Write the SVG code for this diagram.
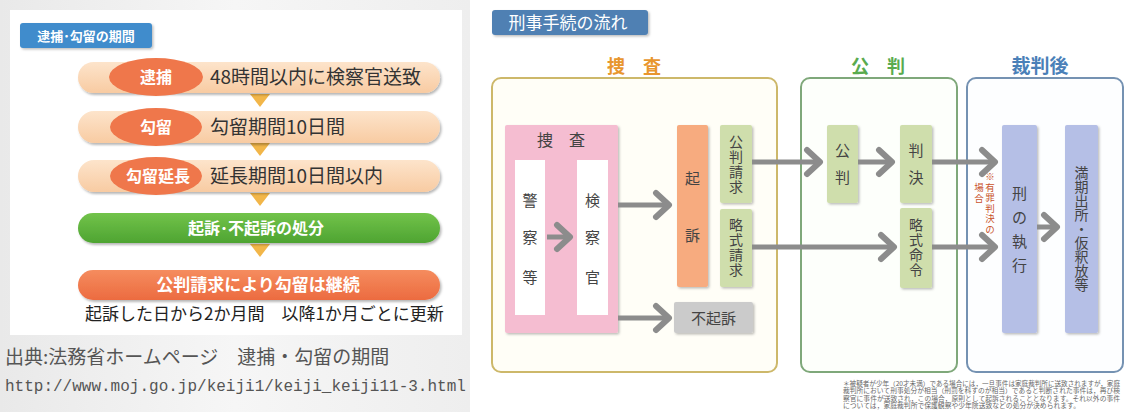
<svg xmlns="http://www.w3.org/2000/svg" width="1125" height="412" viewBox="0 0 1125 412">
<defs>
<style>
.jp{font-family:"Noto Sans CJK JP","Noto Sans",sans-serif;}
.wb{fill:#fff;font-weight:bold;}
.lbl{fill:#333;font-size:19px;}
.vt{fill:#444;font-size:15px;text-anchor:middle;}
.vw{fill:#444;font-size:14px;letter-spacing:1px;text-anchor:middle;writing-mode:vertical-rl;}
.conn{stroke:#8c8c8c;stroke-width:5;fill:none;}
.fn{fill:#666;font-size:6.4px;}
</style>
<linearGradient id="gPeach" x1="0" y1="0" x2="0" y2="1"><stop offset="0" stop-color="#fde4cb"/><stop offset="1" stop-color="#f8cba2"/></linearGradient>
<linearGradient id="gGreen" x1="0" y1="0" x2="0" y2="1"><stop offset="0" stop-color="#72c34a"/><stop offset="1" stop-color="#4ea432"/></linearGradient>
<linearGradient id="gOrange" x1="0" y1="0" x2="0" y2="1"><stop offset="0" stop-color="#f58c5e"/><stop offset="1" stop-color="#ec6b40"/></linearGradient>
<linearGradient id="gBg" x1="0" y1="0" x2="1" y2="0"><stop offset="0" stop-color="#e9e9e9"/><stop offset="0.5" stop-color="#f6f6f6"/><stop offset="1" stop-color="#eeeeee"/></linearGradient>
<filter id="sh" x="-10%" y="-20%" width="120%" height="150%"><feDropShadow dx="1.5" dy="2" stdDeviation="1.3" flood-color="#000" flood-opacity="0.28"/></filter>
<filter id="sh2" x="-20%" y="-10%" width="150%" height="130%"><feDropShadow dx="1.5" dy="1.5" stdDeviation="1" flood-color="#000" flood-opacity="0.25"/></filter>
<marker id="chev" markerUnits="userSpaceOnUse" viewBox="0 0 22 32" refX="18" refY="16" markerWidth="22" markerHeight="32" orient="auto">
<path d="M4,4 L17,16 L4,28" fill="none" stroke="#8c8c8c" stroke-width="6" stroke-linecap="round" stroke-linejoin="round"/>
</marker>
</defs>

<!-- backgrounds -->
<rect x="0" y="0" width="470" height="412" fill="url(#gBg)"/>
<rect x="470" y="0" width="655" height="412" fill="#ffffff"/>
<rect x="10" y="10" width="452" height="325" fill="#ffffff"/>

<!-- LEFT PANEL -->
<g id="title-left">
<rect x="20" y="23" width="132" height="25" rx="3" fill="#3f8ccc" filter="url(#sh2)"/>
<text x="86" y="40.5" class="jp wb" font-size="13" text-anchor="middle">逮捕･勾留の期間</text>
</g>

<g id="tri" fill="#f2b649">
<polygon points="250,94 270,94 260,107"/>
<polygon points="250,143 270,143 260,156"/>
<polygon points="250,193 270,193 260,206"/>
<polygon points="250,244 270,244 260,257"/>
</g>

<g id="row-taiho">
<rect x="78" y="62" width="362" height="31" rx="15.5" fill="url(#gPeach)" filter="url(#sh)"/>
<ellipse cx="156" cy="77" rx="47" ry="19" fill="#ef774b"/>
<text x="156" y="83" class="jp wb" font-size="16" text-anchor="middle">逮捕</text>
<text x="210" y="84" class="jp lbl">48時間以内に検察官送致</text>
</g>

<g id="row-koryu">
<rect x="78" y="111" width="362" height="32" rx="16" fill="url(#gPeach)" filter="url(#sh)"/>
<ellipse cx="156" cy="127" rx="46" ry="19" fill="#ef774b"/>
<text x="156" y="133" class="jp wb" font-size="16" text-anchor="middle">勾留</text>
<text x="210" y="134" class="jp lbl">勾留期間10日間</text>
</g>

<g id="row-encho">
<rect x="78" y="160" width="362" height="32" rx="16" fill="url(#gPeach)" filter="url(#sh)"/>
<ellipse cx="156" cy="176" rx="46" ry="19" fill="#ef774b"/>
<text x="158" y="182" class="jp wb" font-size="16" text-anchor="middle">勾留延長</text>
<text x="210" y="183" class="jp lbl">延長期間10日間以内</text>
</g>

<g id="row-kiso">
<rect x="78" y="213" width="362" height="30" rx="15" fill="url(#gGreen)" filter="url(#sh)"/>
<text x="256" y="234" class="jp wb" font-size="16" text-anchor="middle">起訴･不起訴の処分</text>
</g>

<g id="row-kohan">
<rect x="78" y="270" width="362" height="30" rx="15" fill="url(#gOrange)" filter="url(#sh)"/>
<text x="258" y="291" class="jp wb" font-size="17" text-anchor="middle">公判請求により勾留は継続</text>
</g>

<text x="85" y="320" class="jp" font-size="17" fill="#222">起訴した日から2か月間　以降1か月ごとに更新</text>

<g id="citation">
<text x="5" y="364" class="jp" font-size="19" fill="#555">出典:法務省ホームページ　逮捕・勾留の期間</text>
<text x="5" y="391" font-family="Liberation Mono, monospace" font-size="16" fill="#555">http://www.moj.go.jp/keiji1/keiji_keiji11-3.html</text>
</g>

<!-- RIGHT PANEL -->
<g id="title-right">
<rect x="492" y="10" width="156" height="25" rx="3" fill="#4f80b3" filter="url(#sh2)"/>
<text x="568" y="29" class="jp" font-size="17" fill="#fff" text-anchor="middle">刑事手続の流れ</text>
</g>

<g id="sec-sosa">
<text x="634" y="73" class="jp" font-size="18" font-weight="bold" fill="#e8962e" text-anchor="middle">捜　査</text>
<rect x="492" y="78" width="285" height="294" rx="9" fill="#fffef7" stroke="#cdb86a" stroke-width="2"/>
</g>
<g id="sec-kohan">
<text x="878" y="73" class="jp" font-size="18" font-weight="bold" fill="#5aab4e" text-anchor="middle">公　判</text>
<rect x="801" y="78" width="156" height="294" rx="9" fill="#fdfffb" stroke="#7fa87a" stroke-width="2"/>
</g>
<g id="sec-saiban">
<text x="1040" y="73" class="jp" font-size="19" font-weight="bold" fill="#4a80b8" text-anchor="middle">裁判後</text>
<rect x="967" y="78" width="156" height="294" rx="9" fill="#fdfeff" stroke="#7592b2" stroke-width="2"/>
</g>

<g id="node-sosa">
<rect x="505" y="125" width="113" height="208" rx="2" fill="#f5bdd1" filter="url(#sh2)"/>
<text x="561" y="146" class="jp" font-size="16" fill="#444" text-anchor="middle">捜　査</text>
</g>
<g id="node-keisatsu">
<rect x="515" y="160" width="30" height="155" fill="#ffffff"/>
<text class="jp vt"><tspan x="530" y="205.5">警</tspan><tspan x="530" y="242.5">察</tspan><tspan x="530" y="282.5">等</tspan></text>
</g>
<g id="node-kensatsu">
<rect x="577" y="160" width="31" height="155" fill="#ffffff"/>
<text class="jp vt"><tspan x="592.5" y="205.5">検</tspan><tspan x="592.5" y="242.5">察</tspan><tspan x="592.5" y="282.5">官</tspan></text>
</g>
<g id="node-kiso">
<rect x="677" y="125" width="31" height="162" rx="2" fill="#f7ab7f" filter="url(#sh2)"/>
<text class="jp vt"><tspan x="692.5" y="183.5">起</tspan><tspan x="692.5" y="240.5">訴</tspan></text>
</g>
<g id="node-kohanseikyu">
<rect x="720" y="125" width="32" height="78" rx="2" fill="#cfdeac" filter="url(#sh2)"/>
<text x="736" y="165" class="jp vw">公判請求</text>
</g>
<g id="node-ryakushikiseikyu">
<rect x="720" y="209" width="32" height="78" rx="2" fill="#cfdeac" filter="url(#sh2)"/>
<text x="736" y="248" class="jp vw">略式請求</text>
</g>
<g id="node-fukiso">
<rect x="674" y="302" width="79" height="31" rx="2" fill="#cbcbcb" filter="url(#sh2)"/>
<text x="713.5" y="323.5" class="jp vt">不起訴</text>
</g>

<g id="node-kohan">
<rect x="827" y="125" width="31" height="78" rx="2" fill="#cfdeac" filter="url(#sh2)"/>
<text class="jp vt"><tspan x="842.5" y="155.5">公</tspan><tspan x="842.5" y="182.5">判</tspan></text>
</g>
<g id="node-hanketsu">
<rect x="900" y="125" width="32" height="78" rx="2" fill="#cfdeac" filter="url(#sh2)"/>
<text class="jp vt"><tspan x="916" y="155.5">判</tspan><tspan x="916" y="182.5">決</tspan></text>
</g>
<g id="node-ryakushikimeirei">
<rect x="900" y="208" width="32" height="80" rx="2" fill="#cfdeac" filter="url(#sh2)"/>
<text x="916" y="248" class="jp vw">略式命令</text>
</g>

<g id="node-shikkou">
<rect x="1002" y="125" width="35" height="208" rx="2" fill="#b5bfe6" filter="url(#sh2)"/>
<text class="jp vt" font-size="17"><tspan x="1019.5" y="199">刑</tspan><tspan x="1019.5" y="223">の</tspan><tspan x="1019.5" y="247">執</tspan><tspan x="1019.5" y="271">行</tspan></text>
</g>
<g id="node-manki">
<rect x="1065" y="125" width="33" height="208" rx="2" fill="#b5bfe6" filter="url(#sh2)"/>
<text x="1081.5" y="229" class="jp vw" style="font-size:14px;letter-spacing:0px">満期出所・仮釈放等</text>
</g>

<g id="note-yuzai" class="jp" fill="#c9532b" style="writing-mode:vertical-rl;font-size:9.5px;letter-spacing:1px">
<text x="990" y="172">※有罪判決の</text>
<text x="979" y="183">場合</text>
</g>

<g id="connectors">
<line class="conn" x1="547" y1="237" x2="571" y2="237" marker-end="url(#chev)"/>
<line class="conn" x1="618" y1="205" x2="670" y2="205" marker-end="url(#chev)"/>
<line class="conn" x1="618" y1="318" x2="670" y2="318" marker-end="url(#chev)"/>
<line class="conn" x1="752" y1="162" x2="821" y2="162" marker-end="url(#chev)"/>
<line class="conn" x1="752" y1="247" x2="895" y2="247" marker-end="url(#chev)"/>
<line class="conn" x1="858" y1="162" x2="893" y2="162" marker-end="url(#chev)"/>
<line class="conn" x1="932" y1="162" x2="996" y2="162" marker-end="url(#chev)"/>
<line class="conn" x1="932" y1="247" x2="996" y2="247" marker-end="url(#chev)"/>
<line class="conn" x1="1037" y1="227" x2="1058" y2="227" marker-end="url(#chev)"/>
</g>

<g id="footnote" class="jp fn">
<text x="843" y="385.5" textLength="277" lengthAdjust="spacingAndGlyphs">＊被疑者が少年（20才未満）である場合には，一旦事件は家庭裁判所に送致されますが，家庭</text>
<text x="843" y="393" textLength="277" lengthAdjust="spacingAndGlyphs">裁判所において刑事処分が相当（刑罰を科すのが相当）であると判断された事件は，再び検</text>
<text x="843" y="400.5" textLength="277" lengthAdjust="spacingAndGlyphs">察官に事件が送致され，この場合，原則として起訴されることとなります。それ以外の事件</text>
<text x="843" y="408" textLength="237" lengthAdjust="spacingAndGlyphs">については，家庭裁判所で保護観察や少年院送致などの処分が決められます。</text>
</g>
</svg>
